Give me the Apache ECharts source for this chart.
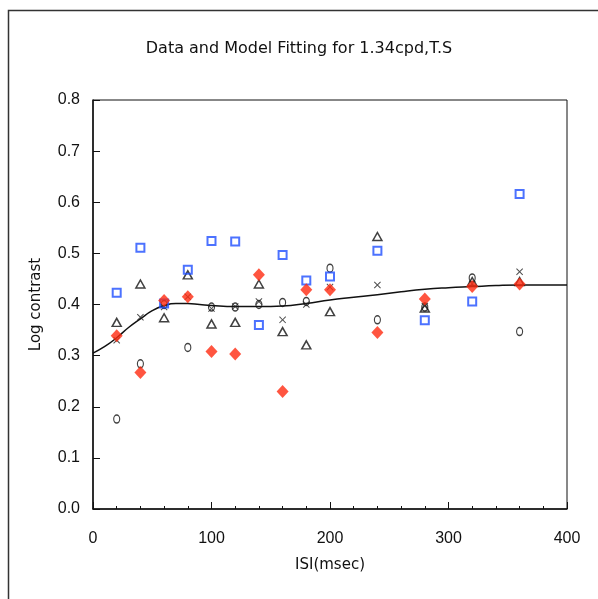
<!DOCTYPE html>
<html><head><meta charset="utf-8">
<script src="https://cdn.jsdelivr.net/npm/echarts@6/dist/echarts.min.js"></script>
<style>html,body{margin:0;padding:0;background:#fff}#c{width:598px;height:599px}</style>
</head><body><div id="c"></div>
<script>
var isi = [20,40,60,80,100,120,140,160,180,200,240,280,320,360];
var squares   = [0.423,0.511,0.402,0.468,0.524,0.523,0.360,0.497,0.447,0.455,0.505,0.369,0.406,0.616];
var diamonds  = [0.339,0.267,0.408,0.415,0.308,0.303,0.458,0.230,0.429,0.429,0.345,0.411,0.435,0.440];
var triangles = [0.365,0.440,0.374,0.458,0.362,0.365,0.440,0.347,0.321,0.386,0.533,0.393,0.445,0.445];
var circles   = [0.176,0.284,0.400,0.316,0.395,0.395,0.400,0.404,0.406,0.471,0.370,0.395,0.452,0.347];
var crosses   = [0.330,0.375,0.395,0.415,0.392,0.396,0.406,0.370,0.400,0.434,0.438,0.397,0.440,0.464];
var modelX = [0,10,20,30,40,50,60,70,80,90,100,120,140,160,180,200,220,240,260,280,300,320,340,360,380,400];
var modelY = [0.305,0.318,0.335,0.355,0.372,0.388,0.398,0.402,0.402,0.400,0.398,0.396,0.396,0.397,0.402,0.409,0.414,0.419,0.425,0.430,0.433,0.435,0.437,0.438,0.438,0.438];
var xTicks = [0,100,200,300,400];
var yTicks = [0,0.1,0.2,0.3,0.4,0.5,0.6,0.7,0.8];

function pairs(xs, ys){ return xs.map(function(x,i){ return [x, ys[i]]; }); }
var FONT = 'Liberation Sans';
var WIDE = 'DejaVu Sans';
var crossPath = 'path://M0,1L1,0L5,4L9,0L10,1L6,5L10,9L9,10L5,6L1,10L0,9L4,5Z';

var chart = echarts.init(document.getElementById('c'));
chart.setOption({
  animation: false,
  backgroundColor: '#fff',
  graphic: [{type:'rect', shape:{x:8.5,y:10.5,width:700,height:700}, style:{fill:'none', stroke:'#333', lineWidth:1.5}, silent:true}],
  title: {text:'Data and Model Fitting for 1.34cpd,T.S', left:'center', top:36,
    textStyle:{fontFamily:WIDE, fontSize:16, fontWeight:'normal', color:'#111'}},
  grid: {left:93, top:100, right:31, bottom:90, show:true, borderColor:'#111', borderWidth:1, backgroundColor:'transparent'},
  xAxis: {type:'value', min:0, max:400, interval:100, name:'ISI(msec)', nameLocation:'middle', nameGap:49,
    nameTextStyle:{fontFamily:WIDE, fontSize:15, color:'#111'},
    axisLine:{onZero:false, lineStyle:{color:'#111', width:1.5}},
    axisTick:{inside:true, length:7, lineStyle:{color:'#111'}},
    minorTick:{show:true, splitNumber:5, length:3, lineStyle:{color:'#111'}},
    axisLabel:{fontFamily:FONT, fontSize:16, color:'#111', margin:22,
      formatter:function(v){ return xTicks.indexOf(v)>=0 ? String(v) : ''; }},
    splitLine:{show:false}},
  yAxis: {type:'value', min:0, max:0.8, interval:0.1, name:'Log contrast', nameLocation:'middle', nameGap:49,
    nameTextStyle:{fontFamily:WIDE, fontSize:15, color:'#111'},
    axisLine:{onZero:false, lineStyle:{color:'#111', width:1.5}},
    axisTick:{inside:true, length:7, lineStyle:{color:'#111'}},
    axisLabel:{fontFamily:FONT, fontSize:16, color:'#111', margin:13,
      formatter:function(v){ var t = yTicks.filter(function(k){return Math.abs(k-v)<1e-6;}); return t.length ? t[0].toFixed(1) : ''; }},
    splitLine:{show:false}},
  series: [
    {type:'line', data:pairs(modelX, modelY), smooth:true, showSymbol:false, z:1,
      lineStyle:{color:'#111', width:1.5}},
    {type:'scatter', data:pairs(isi, circles), symbol:'circle', symbolSize:[6,8], z:2,
      itemStyle:{color:'rgba(0,0,0,0)', borderColor:'#111', borderWidth:1.3}},
    {type:'scatter', data:pairs(isi, triangles), symbol:'triangle', symbolSize:[9,8], z:2,
      itemStyle:{color:'rgba(0,0,0,0)', borderColor:'#111', borderWidth:1.5}},
    {type:'scatter', data:pairs(isi, crosses), symbol:crossPath, symbolSize:7, z:2,
      itemStyle:{color:'#222'}},
    {type:'scatter', data:pairs(isi, squares), symbol:'rect', symbolSize:[8,8], z:3,
      itemStyle:{color:'rgba(0,0,0,0)', borderColor:'#1f4fff', borderWidth:2}},
    {type:'scatter', data:pairs(isi, diamonds), symbol:'diamond', symbolSize:[12,13], z:4,
      itemStyle:{color:'#ff2a10'}}
  ]
});
</script></body></html>
